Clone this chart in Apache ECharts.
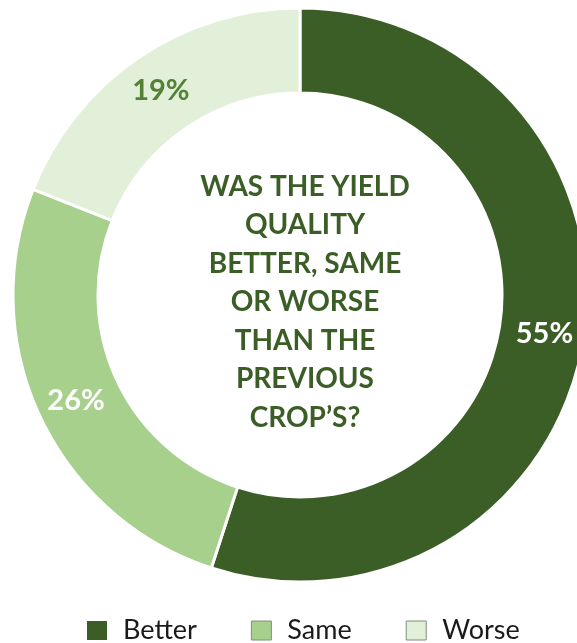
<!DOCTYPE html>
<html>
<head>
<meta charset="utf-8">
<script src="https://cdn.jsdelivr.net/npm/echarts@6/dist/echarts.min.js"></script>
<style>
  html, body { margin: 0; padding: 0; background: #fff; }
  #chart { width: 577px; height: 643px; }
</style>
</head>
<body>
<div id="chart"></div>
<script>
const categories = ["Better", "Same", "Worse"];
const values = [55, 26, 19];
const colors = ["#3b5e27", "#a8d08d", "#e2efd9"];
const labelColors = ["#ffffff", "#ffffff", "#548235"];
const centerTitle = "WAS THE YIELD\nQUALITY\nBETTER, SAME\nOR WORSE\nTHAN THE\nPREVIOUS\nCROP\u2019S?";

const chart = echarts.init(document.getElementById("chart"));
chart.setOption({
  backgroundColor: "#fff",
  title: {
    text: centerTitle,
    left: 300,
    top: 297,
    textAlign: "center",
    textVerticalAlign: "middle",
    textStyle: {
      fontFamily: "Lato",
      fontWeight: "bold",
      fontSize: 28,
      lineHeight: 38.5,
      color: "#3b5e27",
    },
  },
  legend: {
    data: categories.map((name, i) => ({
      name: name,
      itemStyle: {
        color: colors[i],
        borderColor: i === 0 ? colors[i] : "#7f8f7a",
        borderWidth: i === 0 ? 0 : 1,
      },
    })),
    left: 82,
    top: 612,
    itemWidth: 20,
    itemHeight: 19,
    itemGap: 54,
    icon: "rect",
    textStyle: {
      fontFamily: "Lato",
      fontSize: 27,
      lineHeight: 22,
      color: "#1a1a1a",
      padding: [0, 0, 0, 11],
    },
  },
  series: [
    {
      type: "pie",
      center: [300, 295],
      radius: [202, 287],
      startAngle: 90,
      clockwise: true,
      silent: true,
      itemStyle: {
        borderColor: "#fff",
        borderWidth: 3,
      },
      label: {
        show: true,
        position: "inside",
        formatter: "{c}%",
        fontFamily: "Lato",
        fontWeight: "bold",
        fontSize: 29,
      },
      labelLine: { show: false },
      data: categories.map((name, i) => ({
        name: name,
        value: values[i],
        itemStyle: { color: colors[i] },
        label: { color: labelColors[i] },
      })),
    },
  ],
});
</script>
</body>
</html>
